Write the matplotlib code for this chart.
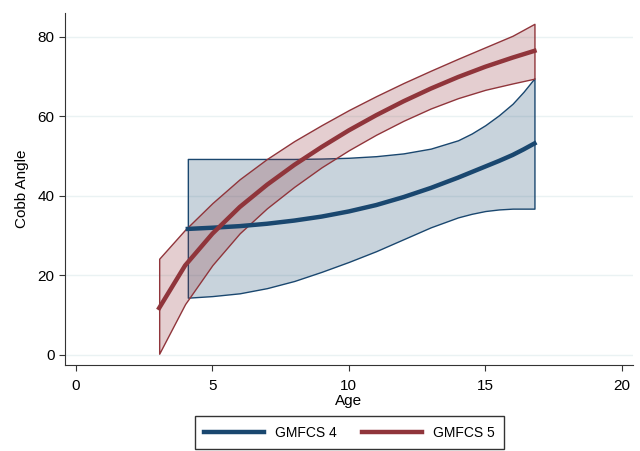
import numpy as np
import matplotlib.pyplot as plt

plt.rcParams['font.family'] = ['Liberation Sans', 'DejaVu Sans']

# GMFCS 4 fit and confidence band
age4 = [4.1, 5, 6, 7, 8, 9, 10, 11, 12, 13, 14, 14.5, 15, 15.5, 16, 16.4, 16.8]
fit4 = [31.7, 32.0, 32.4, 33.0, 33.8, 34.8, 36.1, 37.7, 39.7, 42.0, 44.6, 46.0, 47.4, 48.8, 50.3, 51.7, 53.2]
hi4 = [49.3, 49.3, 49.3, 49.3, 49.3, 49.4, 49.6, 50.0, 50.7, 51.9, 54.0, 55.7, 57.8, 60.3, 63.2, 66.2, 69.6]
lo4 = [14.4, 14.8, 15.5, 16.8, 18.6, 20.9, 23.4, 26.1, 29.1, 32.1, 34.6, 35.5, 36.2, 36.6, 36.8, 36.8, 36.8]

# GMFCS 5 fit and confidence band
age5 = [3.05, 4, 5, 6, 7, 8, 9, 10, 11, 12, 13, 14, 15, 16, 16.8]
fit5 = [11.8, 22.5, 30.5, 37.2, 42.8, 47.8, 52.3, 56.5, 60.3, 63.8, 67.0, 69.9, 72.5, 74.8, 76.5]
hi5 = [24.2, 31.5, 38.2, 44.2, 49.3, 53.8, 57.8, 61.6, 65.1, 68.4, 71.5, 74.5, 77.4, 80.3, 83.3]
lo5 = [0.3, 12.8, 22.6, 30.6, 36.9, 42.3, 47.2, 51.5, 55.4, 58.9, 62.0, 64.6, 66.7, 68.3, 69.5]

navy = '#1a476f'
maroon = '#90353b'

fig = plt.figure(figsize=(6.4, 4.51), dpi=100)
ax = fig.add_axes([0.1016, 0.191, 0.887, 0.78])

ax.fill_between(age4, lo4, hi4, facecolor=(0.10, 0.28, 0.44, 0.24), edgecolor=navy, linewidth=1)
ax.fill_between(age5, lo5, hi5, facecolor=(0.56, 0.21, 0.23, 0.24), edgecolor=maroon, linewidth=1)
l4, = ax.plot(age4, fit4, color=navy, linewidth=3.2, label='GMFCS 4')
l5, = ax.plot(age5, fit5, color=maroon, linewidth=3.2, label='GMFCS 5')

ax.set_xlim(-0.4, 20.4)
ax.set_ylim(-2.5, 86)
ax.set_xticks([0, 5, 10, 15, 20])
ax.set_yticks([0, 20, 40, 60, 80])
ax.grid(axis='y', color='#eaf2f3', linewidth=1)
ax.set_axisbelow(True)
for s in ['top', 'right']:
    ax.spines[s].set_visible(False)
for s in ['left', 'bottom']:
    ax.spines[s].set_color('#333333')
ax.tick_params(labelsize=11, length=4, color='#333333')
ax.tick_params(axis='x', pad=6)
ax.set_xlabel('Age', fontsize=11, labelpad=1)
ax.set_ylabel('Cobb Angle', fontsize=11, labelpad=6)

leg = fig.legend(handles=[l4, l5], loc='lower center', bbox_to_anchor=(0.546, -0.012),
                 ncol=2, fontsize=10, frameon=True, fancybox=False,
                 handlelength=4.3, handletextpad=0.8, columnspacing=1.8, borderpad=0.7)
leg.get_frame().set_edgecolor('black')
leg.get_frame().set_linewidth(1)

fig.savefig('out.png', dpi=100)
